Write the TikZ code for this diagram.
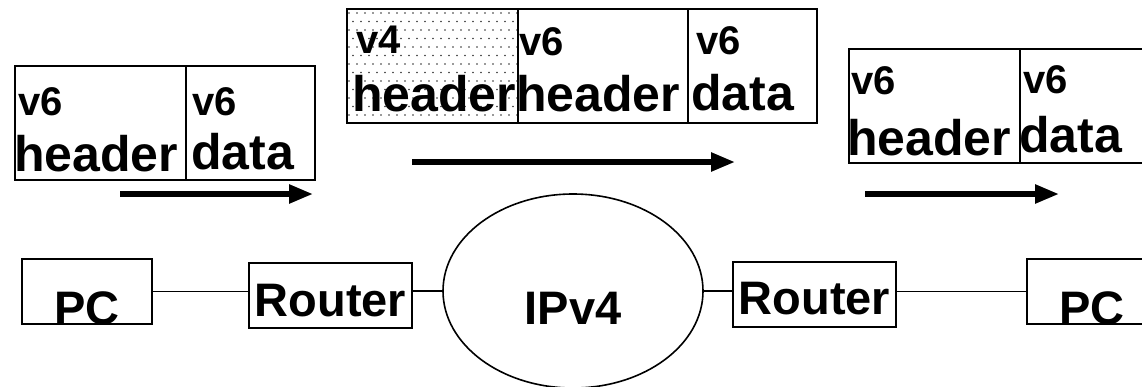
\documentclass[tikz,border=0pt]{standalone}
\usepackage{fontspec}
\setmainfont{Liberation Sans}
\usetikzlibrary{arrows.meta,shapes.geometric}
\begin{document}
\begin{tikzpicture}[x=1pt,y=-1pt,
  cell/.style={draw, line width=1.6pt, inner sep=0pt, anchor=north west, minimum height=114pt},
  big/.style={font=\fontsize{50}{54}\selectfont\bfseries, inner sep=0pt, anchor=base west},
  small/.style={font=\fontsize{40}{44}\selectfont\bfseries, inner sep=0pt, anchor=base west},
  lbl/.style={font=\fontsize{47}{50}\selectfont\bfseries, inner sep=0pt, anchor=base},
  dev/.style={draw, line width=1.6pt, inner sep=0pt, minimum height=65pt},
  flow/.style={line width=5.5pt, -{Triangle[length=24pt,width=18pt]}},
  link/.style={line width=1.4pt},
  dotc/.style={fill=black!80}
]
\useasboundingbox (0,0) rectangle (1142,386);

% ---------- left packet ----------
\node[cell, minimum width=171pt] (lh) at (14,65) {};
\node[cell, minimum width=129pt] (ld) at (185,65) {};
\node[small] (lhA) at (18,115) {v6};
\node[big]   (lhB) at (14,171) {header};
\node[small] (ldA) at (192,115) {v6};
\node[big]   (ldB) at (191,169) {data};

% ---------- middle packet ----------
\begin{scope}
  \clip (346,8) rectangle (517,122);
  \foreach \r in {0,...,14} {
    \foreach \c in {0,...,22} {
      \fill[dotc] ({346+3+\c*8+mod(\r,2)*4},{8+5+\r*8.5}) circle (0.9pt);
    }
  }
\end{scope}
\node[cell, minimum width=171pt] (m4) at (346,8) {};
\node[cell, minimum width=170pt] (mh) at (517,8) {};
\node[cell, minimum width=129pt] (md) at (687,8) {};
\node[small] (m4A) at (356,53) {v4};
\node[big]   (m4B) at (352,111) {header};
\node[small] (mhA) at (519,55) {v6};
\node[big]   (mhB) at (516,111) {header};
\node[small] (mdA) at (696,54) {v6};
\node[big]   (mdB) at (691,110) {data};

% ---------- right packet ----------
\node[cell, minimum width=171pt] (rh) at (848,48) {};
\node[cell, minimum width=129pt] (rd) at (1019,48) {};
\node[small] (rhA) at (851,94) {v6};
\node[big]   (rhB) at (847,155) {header};
\node[small] (rdA) at (1023,93) {v6};
\node[big]   (rdB) at (1019,152) {data};

% ---------- flow arrows ----------
\coordinate (a1s) at (120,194); \coordinate (a1e) at (313,194);
\coordinate (a2s) at (412,162); \coordinate (a2e) at (735,162);
\coordinate (a3s) at (865,194); \coordinate (a3e) at (1059,194);
\draw[flow] (a1s) -- (a1e);
\draw[flow] (a2s) -- (a2e);
\draw[flow] (a3s) -- (a3e);

% ---------- network ----------
\node[dev, minimum width=130pt] (pcL) at (87,291.5) {};
\node[dev, minimum width=163pt] (rtL) at (330.5,295.5) {};
\node[draw, line width=1.6pt, ellipse, minimum width=260pt, minimum height=194pt, inner sep=0pt] (ip) at (573,291) {};
\node[dev, minimum width=163pt] (rtR) at (814.5,294.5) {};
\node[dev, minimum width=130pt] (pcR) at (1092,291.5) {};

\node[lbl] (pcLt) at (87,324) {PC};
\node[lbl] (rtLt) at (330.5,316) {Router};
\node[lbl] (ipt)  at (573,324) {IPv4};
\node[lbl] (rtRt) at (814.5,314) {Router};
\node[lbl] (pcRt) at (1092,324) {PC};

\draw[link] (pcL.east) -- (pcL.east -| rtL.west);
\draw[link] (rtL.east |- ip.west) -- (ip.west);
\draw[link] (ip.east) -- (ip.east -| rtR.west);
\draw[link] (pcR.west -| rtR.east) -- (pcR.west);
\end{tikzpicture}
\end{document}
